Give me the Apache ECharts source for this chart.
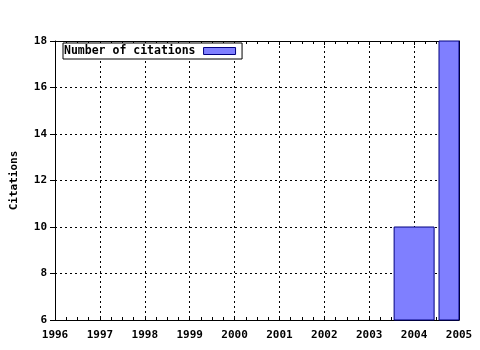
<!DOCTYPE html>
<html><head><meta charset="utf-8">
<script src="https://cdn.jsdelivr.net/npm/echarts@6/dist/echarts.min.js"></script>
<style>html,body{margin:0;padding:0;background:#fff}#c{width:480px;height:350px}</style>
</head><body><div id="c"></div>
<script>
var years = [2004, 2005];
var citations = [10, 18];
var seriesName = 'Number of citations';
var yAxisName = 'Citations';
var xMin = 1996, xMax = 2005, yMin = 6, yMax = 18;

var font = '"DejaVu Sans Mono", monospace';
var data = years.map(function (y, i) { return [y, citations[i]]; });
var chart = echarts.init(document.getElementById('c'), null, {renderer: 'canvas'});
var dotted = {show: true, lineStyle: {color: '#000', width: 1, type: [2, 3]}};
var barW = 40;
function renderBar(params, api) {
  var p = api.coord([api.value(0), api.value(1)]);
  var b = api.coord([api.value(0), yMin]);
  var rect = {x: p[0] - barW / 2, y: p[1], width: barW, height: b[1] - p[1]};
  var cs = params.coordSys;
  var r = echarts.graphic.clipRectByRect(rect, {x: cs.x, y: cs.y, width: cs.width, height: cs.height});
  if (!r) return null;
  return {type: 'rect', shape: r, style: {fill: '#7f7fff', stroke: '#000080', lineWidth: 1}};
}
chart.setOption({
  animation: false,
  backgroundColor: '#fff',
  grid: {left: 55, right: 21, top: 41, bottom: 30, containLabel: false, outerBoundsMode: 'none'},
  legend: {
    left: 63, top: 43, orient: 'horizontal', align: 'right',
    backgroundColor: '#fff', borderColor: '#000', borderWidth: 1, borderRadius: 0,
    padding: [2, 6, 2, 1], itemWidth: 32, itemHeight: 7,
    textStyle: {fontFamily: font, fontWeight: 'bold', fontSize: 11.5, color: '#000', padding: [0, 3, 0, 0]},
    icon: 'rect',
    itemStyle: {color: '#7f7fff', borderColor: '#000080', borderWidth: 1},
    data: [seriesName]
  },
  xAxis: [{
    type: 'value', min: xMin, max: xMax, interval: 1, position: 'bottom',
    axisLine: {show: true, onZero: false, lineStyle: {color: '#000', width: 1}},
    axisTick: {show: true, inside: true, length: 4, lineStyle: {color: '#000'}},
    minorTick: {show: true, splitNumber: 4, length: 3, lineStyle: {color: '#000'}},
    axisLabel: {fontFamily: font, fontWeight: 'bold', fontSize: 11, color: '#000', margin: 10,
      formatter: function (v) { return String(v); }},
    splitLine: dotted
  }, {
    type: 'value', min: xMin, max: xMax, interval: 1, position: 'top',
    axisLine: {show: true, onZero: false, lineStyle: {color: '#000', width: 1}},
    axisTick: {show: true, inside: true, length: 4, lineStyle: {color: '#000'}},
    minorTick: {show: true, splitNumber: 4, length: 3, lineStyle: {color: '#000'}},
    axisLabel: {show: false}, splitLine: {show: false}
  }],
  yAxis: [{
    type: 'value', min: yMin, max: yMax, interval: 2, position: 'left',
    name: yAxisName, nameLocation: 'middle', nameRotate: 90, nameGap: 35,
    nameTextStyle: {fontFamily: font, fontWeight: 'bold', fontSize: 11, color: '#000'},
    axisLine: {show: true, onZero: false, lineStyle: {color: '#000', width: 1}},
    axisTick: {show: true, inside: false, length: 5, lineStyle: {color: '#000'}},
    axisLabel: {fontFamily: font, fontWeight: 'bold', fontSize: 11, color: '#000', margin: 8},
    splitLine: dotted
  }, {
    type: 'value', min: yMin, max: yMax, interval: 2, position: 'right',
    axisLine: {show: true, onZero: false, lineStyle: {color: '#000', width: 1}},
    axisTick: {show: false}, axisLabel: {show: false}, splitLine: {show: false}
  }],
  series: [{
    name: seriesName, type: 'custom', data: data, renderItem: renderBar,
    xAxisIndex: 0, yAxisIndex: 0, encode: {x: 0, y: 1},
    itemStyle: {color: '#7f7fff', borderColor: '#000080', borderWidth: 1}
  }]
});
</script></body></html>
